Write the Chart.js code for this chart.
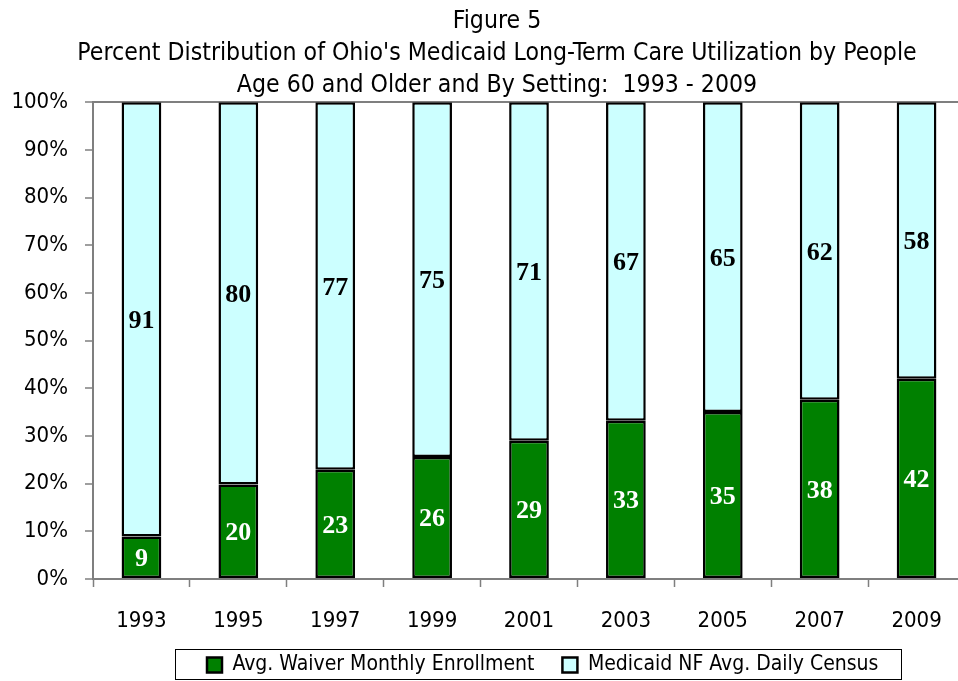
<!DOCTYPE html>
<html>
<head>
<meta charset="utf-8">
<script src="https://cdn.jsdelivr.net/npm/chart.js@4/dist/chart.umd.min.js"></script>
<style>
  html, body { margin: 0; padding: 0; background: #fff; overflow: hidden; }
  #wrap { width: 958px; height: 681px; overflow: hidden; position: relative; }
  #chart { position: absolute; left: 0; top: 0; }
</style>
</head>
<body>
<div id="wrap"><canvas id="chart" width="965" height="681"></canvas></div>
<script>
const years = ['1993', '1995', '1997', '1999', '2001', '2003', '2005', '2007', '2009'];

// bar heights (percent of total)
const waiverShare = [8.9, 19.8, 22.9, 25.6, 29.0, 33.2, 35.0, 37.6, 42.0];
const nfShare     = [91.1, 80.2, 77.1, 74.4, 71.0, 66.8, 65.0, 62.4, 58.0];

// numbers printed on the bars
const waiverLabels = ['9', '20', '23', '26', '29', '33', '35', '38', '42'];
const nfLabels     = ['91', '80', '77', '75', '71', '67', '65', '62', '58'];

const yTicks = [0, 10, 20, 30, 40, 50, 60, 70, 80, 90, 100];

const FONT = "'DejaVu Sans Condensed', 'Liberation Sans Narrow', sans-serif";
const AXIS = '#7f7f7f';
const LEGEND_H = 44;

const barLabels = {
  id: 'barLabels',
  afterDatasetsDraw(chart) {
    const ctx = chart.ctx;
    const sets = [waiverLabels, nfLabels];
    const colors = ['#ffffff', '#000000'];
    ctx.save();
    ctx.font = "bold 26px 'Liberation Serif', 'DejaVu Serif', serif";
    ctx.textAlign = 'center';
    ctx.textBaseline = 'middle';
    sets.forEach((labels, i) => {
      ctx.fillStyle = colors[i];
      chart.getDatasetMeta(i).data.forEach((bar, j) => {
        const p = bar.getProps(['x', 'y', 'base'], true);
        ctx.fillText(labels[j], p.x, (p.y + p.base) / 2 + 2);
      });
    });
    ctx.restore();
  }
};

// nudge title + legend to where the original has them, frame the legend
const placeBlocks = {
  id: 'placeBlocks',
  afterUpdate(chart) {
    const t = chart.titleBlock;
    const tdx = 497 - (t.left + t.right) / 2;
    t.left += tdx; t.right += tdx;

    const lg = chart.legend;
    const hb = lg.legendHitBoxes[0];
    const dx = 207 - hb.left;
    const dy = 665 - (hb.top + hb.height / 2);
    lg.left += dx; lg.right += dx;
    lg.top += dy;
    lg.bottom = chart.height;
    lg.fit();
    lg.adjustHitBoxes();
  },
  afterDraw(chart) {
    const hb = chart.legend.legendHitBoxes;
    if (!hb || !hb.length) return;
    const first = hb[0], last = hb[hb.length - 1];
    const ctx = chart.ctx;
    const x0 = Math.round(first.left - 32);
    const x1 = Math.round(last.left + last.width + 23);
    ctx.save();
    ctx.strokeStyle = '#000';
    ctx.lineWidth = 1;
    ctx.strokeRect(x0 + 0.5, 649.5, x1 - x0, 30);
    ctx.restore();
  }
};

new Chart(document.getElementById('chart'), {
  type: 'bar',
  data: {
    labels: years,
    datasets: [
      { label: 'Avg. Waiver Monthly Enrollment', data: waiverShare,
        backgroundColor: '#008000', borderColor: '#000', borderWidth: 2.5, borderSkipped: false },
      { label: 'Medicaid NF Avg. Daily Census', data: nfShare,
        backgroundColor: '#ccffff', borderColor: '#000', borderWidth: 2.5, borderSkipped: false }
    ]
  },
  options: {
    responsive: false,
    animation: false,
    layout: { padding: 0 },
    datasets: { bar: { barPercentage: 0.41, categoryPercentage: 1 } },
    plugins: {
      title: {
        display: true,
        text: ['Figure 5',
               "Percent Distribution of Ohio's Medicaid Long-Term Care Utilization by People",
               'Age 60 and Older and By Setting:  1993 - 2009'],
        color: '#000',
        font: { family: FONT, size: 24.6, weight: 'normal', lineHeight: 1.29 },
        padding: { top: 6, bottom: 1 }
      },
      legend: {
        position: 'bottom',
        maxHeight: LEGEND_H,
        labels: {
          color: '#000',
          font: { family: FONT, size: 21, weight: 'normal' },
          boxWidth: 15, boxHeight: 15, padding: 28
        }
      },
      tooltip: { enabled: false }
    },
    scales: {
      x: {
        stacked: true,
        afterFit: s => { s.height = 102 - s.chart.legend.height; },
        grid: { offset: true, drawOnChartArea: false, tickColor: AXIS, tickLength: 8, tickWidth: 1.5 },
        border: { color: AXIS, width: 2 },
        ticks: { color: '#000', padding: 21, font: { family: FONT, size: 22, weight: 'normal' } }
      },
      y: {
        stacked: true,
        min: 0, max: 100,
        afterBuildTicks: s => { s.ticks = yTicks.map(v => ({ value: v })); },
        afterFit: s => { s.width = 93; },
        grid: {
          color: c => (c.tick && c.tick.value === 100) ? AXIS : 'rgba(0,0,0,0)',
          lineWidth: 2, tickColor: AXIS, tickLength: 8, tickWidth: 1.5
        },
        border: { color: AXIS, width: 2 },
        ticks: { color: '#000', padding: 17, callback: v => v + '%',
                 font: { family: FONT, size: 22, weight: 'normal' } }
      }
    }
  },
  plugins: [barLabels, placeBlocks]
});
</script>
</body>
</html>
